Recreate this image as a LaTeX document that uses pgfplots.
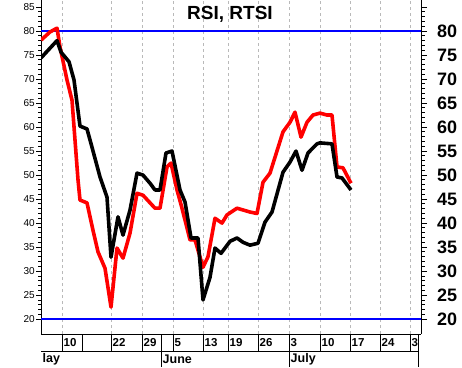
\documentclass[border=0pt]{standalone}
\usepackage{pgfplots}
\pgfplotsset{compat=1.18}
\usepackage{fontspec}
\setmainfont{Liberation Sans}
\begin{document}
\begin{tikzpicture}[x=1pt,y=1pt]
\path[use as bounding box] (0,0) rectangle (462,367);
\begin{axis}[
  at={(41pt,33pt)}, anchor=south west,
  scale only axis, width=380pt, height=334pt,
  xmin=41, xmax=421, ymin=16.9, ymax=86.46,
  axis x line*=bottom, axis y line*=left,
  axis line style={-, line width=1pt},
  xtick={62,111,142,173,203,228,258,289,320,350,380,410},
  xticklabels={}, x tick style={draw=none},
  xmajorgrids, major x grid style={gray!55, line width=0.8pt, dash pattern=on 3pt off 3pt},
  ytick={20,25,...,85}, minor y tick num=4,
  tick align=outside, major tick length=5pt, minor tick length=3pt,
  y tick style={black, line width=0.8pt},
  yticklabel style={font=\fontsize{10}{10}\selectfont, inner sep=1pt},
  /pgf/number format/assume math mode=true,
]
\addplot[blue, line width=2pt] coordinates {(41,80) (421,80)};
\addplot[blue, line width=2pt] coordinates {(41,20) (421,20)};
% red series
\addplot[red, line width=3.6pt, line join=round] coordinates {
(41,78.1) (50,79.8) (57,80.6) (60,76.7) (67,69.8) (72,65.6) (75,57.3) (78,49)
(80,44.8) (87,44.2) (93,38.5) (98,34) (105,30.6) (111,22.5) (117,34.8) (123,32.7)
(130,37.9) (137,46.2) (143,45.8) (155,43.1) (160,43.1) (167,51.7) (171,52.5)
(177,46.9) (182,43.1) (190,36.5) (195,36.5) (203,30.8) (208,33) (215,41) (222,40)
(227,41.7) (237,43.1) (250,42.3) (257,42) (263,48.5) (270,50.4) (283,59) (290,61)
(295,63.1) (301,57.9) (307,61) (313,62.5) (320,62.9) (327,62.5) (332,62.5)
(337,51.7) (343,51.5) (351,48.3)};
% black series
\addplot[black, line width=3.6pt, line join=round] coordinates {
(41,74.4) (57,78.0) (61,75.6) (69,73.6) (74,69.8) (80,60.2) (87,59.6) (92,55.8)
(100,49.6) (107,45.4) (111,32.9) (118,41.3) (123,37.5) (130,42.7) (137,50.4)
(143,50) (150,48.3) (155,46.9) (160,46.9) (166,54.6) (172,55) (180,46.9) (185,44.4)
(191,36.9) (198,36.9) (203,24) (210,28.7) (215,34.8) (221,33.7) (230,36.2)
(237,36.9) (243,36) (250,35.4) (258,35.8) (265,40.2) (272,42.3) (283,50.6)
(290,52.7) (296,55) (302,51) (308,54.6) (317,56.5) (320,56.7) (332,56.5)
(337,49.6) (342,49.4) (351,46.9)};
\end{axis}
\begin{axis}[
  at={(41pt,33pt)}, anchor=south west,
  scale only axis, width=380pt, height=334pt,
  xmin=41, xmax=421, ymin=16.9, ymax=86.46,
  axis x line=none, axis y line*=right,
  axis line style={-, line width=1pt},
  ytick={20,25,...,85},
  yticklabels={20,25,30,35,40,45,50,55,60,65,70,75,80,{}},
  minor y tick num=4,
  tick align=outside, major tick length=6pt, minor tick length=3.5pt,
  y tick style={black, line width=0.8pt},
  yticklabel style={font=\fontsize{18}{18}\selectfont\bfseries, inner sep=1pt, xshift=9pt},
]
\end{axis}
% title
\node[font=\fontsize{19}{19}\selectfont\bfseries] at (230,353) {RSI, RTSI};
% date row
\draw[line width=1pt] (41,16) -- (418,16);
\foreach \xx in {62,82,111,142,161,173,203,228,258,289,320,350,380,410,418}
  \draw[line width=1pt] (\xx,33) -- (\xx,16);
\foreach \xx in {161,289,418}
  \draw[line width=1pt] (\xx,16) -- (\xx,0);
\foreach \xx/\lab in {62/10,111/22,142/29,173/5,203/13,228/19,258/26,289/3,320/10,350/17,380/24,410/3}
  \node[anchor=west, inner sep=0pt, font=\fontsize{11.5}{11.5}\selectfont\bfseries] at (\xx+1.5,24.5) {\lab};
\foreach \xx/\lab in {41/lay,161/June,289/July}
  \node[anchor=west, inner sep=0pt, font=\fontsize{12.5}{12.5}\selectfont\bfseries] at (\xx+1.5,7.5) {\lab};
\end{tikzpicture}
\end{document}
